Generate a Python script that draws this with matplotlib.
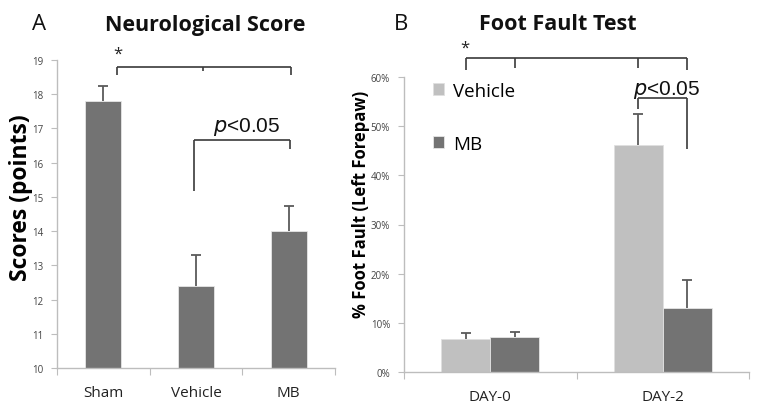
import matplotlib
matplotlib.use("Agg")
import matplotlib.pyplot as plt
import numpy as np

# ---- data ----
groups_a = ["Sham", "Vehicle", "MB"]
scores = [17.8, 12.4, 14.0]
scores_err = [0.45, 0.9, 0.72]
yticks_a = [10, 11, 12, 13, 14, 15, 16, 17, 18, 19]

days = ["DAY-0", "DAY-2"]
vehicle = [6.7, 46.1]
vehicle_err = [1.2, 6.3]
mb = [7.1, 13.0]
mb_err = [1.0, 5.7]
yticks_b = [0, 10, 20, 30, 40, 50, 60]
ytick_labels_b = ["0%", "10%", "20%", "30%", "40%", "50%", "60%"]

W, H = 780, 410
fig = plt.figure(figsize=(W / 100, H / 100), dpi=100)
FONT = ["Open Sans", "DejaVu Sans"]
plt.rcParams["font.family"] = FONT

DARK = "#737373"
LIGHT = "#c0c0c0"
ERR = "#5a5a5a"
SPINE = "#bdbdbd"
LINE = "#3a3a3a"


def fx(px):
    return px / W


def fy(py):
    return 1 - py / H


def style_axes(ax, n):
    for s in ["top", "right"]:
        ax.spines[s].set_visible(False)
    for s in ["left", "bottom"]:
        ax.spines[s].set_color(SPINE)
        ax.spines[s].set_linewidth(1.0)
    ax.set_xlim(-0.5, n - 0.5)
    ax.set_xticks(np.arange(-0.5, n, 1.0))
    ax.set_xticklabels([])
    ax.tick_params(axis="x", which="major", length=5, color=SPINE, direction="out")
    ax.tick_params(axis="y", which="major", length=4, color=SPINE, direction="out",
                   labelsize=7, labelcolor="#444444", pad=6)


def upper_err(ax, x, y, e):
    x = np.asarray(x, dtype=float)
    y = np.asarray(y, dtype=float)
    e = np.asarray(e, dtype=float)
    ax.vlines(x, y, y + e, color=ERR, lw=1.3, zorder=1)
    ax.plot(x, y + e, ls="none", marker="_", ms=7, mew=1.3, color=ERR, zorder=1)


def bracket(ax, xs, bottoms, top):
    ax.plot([xs[0], xs[-1]], [top, top], color=LINE, lw=1.2, clip_on=False,
            solid_capstyle="butt")
    for x, b in zip(xs, bottoms):
        ax.plot([x, x], [top, b], color=LINE, lw=1.2, clip_on=False,
                solid_capstyle="butt")


# ---------------- Panel A ----------------
axA = fig.add_axes([fx(57), fy(369), fx(335) - fx(57), fy(61) - fy(369)])
xa = np.arange(len(groups_a))
axA.bar(xa, scores, width=0.39, color=DARK, edgecolor="#e6e6e6", linewidth=0.6, zorder=2)
upper_err(axA, xa, scores, scores_err)
axA.set_ylim(10, 19)
axA.set_yticks(yticks_a)
style_axes(axA, len(groups_a))
axA.set_xticks(xa, minor=True)
axA.set_xticklabels(groups_a, minor=True, fontsize=11, color="#222222")
axA.tick_params(axis="x", which="minor", length=0, pad=12)
axA.set_ylabel("Scores (points)", fontsize=16.5, fontweight="bold")
axA.yaxis.set_label_coords((33 - 57) / 278, 0.555)

bracket(axA, [0.15, 1.08, 2.02], [18.55, 18.68, 18.55], 18.8)
axA.text(0.16, 19.18, "*", ha="center", va="center", fontsize=12, color="#222222",
         clip_on=False)
bracket(axA, [0.98, 2.01], [15.17, 16.4], 16.66)
axA.text(1.55, 17.07, r"$\it{p}$<0.05", ha="center", va="center", fontsize=15,
         family="Liberation Sans", color="#111111")

fig.text(fx(39), fy(25), "A", fontsize=16, ha="center", va="center", color="#111111")
fig.text(fx(205), fy(25), "Neurological Score", fontsize=15.5, fontweight="bold",
         ha="center", va="center", color="#111111")

# ---------------- Panel B ----------------
axB = fig.add_axes([fx(404), fy(373), fx(749) - fx(404), fy(78) - fy(373)])
xb = np.arange(len(days))
bw = 0.284
axB.bar(xb - bw / 2, vehicle, width=bw, color=LIGHT, edgecolor="#e0e0e0", linewidth=0.6,
        label="Vehicle", zorder=2)
axB.bar(xb + bw / 2, mb, width=bw, color=DARK, edgecolor="#e6e6e6", linewidth=0.6,
        label="MB", zorder=2)
upper_err(axB, xb - bw / 2, vehicle, vehicle_err)
upper_err(axB, xb + bw / 2, mb, mb_err)
axB.set_ylim(0, 60)
axB.set_yticks(yticks_b)
axB.set_yticklabels(ytick_labels_b)
style_axes(axB, len(days))
axB.set_xticks(xb, minor=True)
axB.set_xticklabels(days, minor=True, fontsize=11, color="#222222")
axB.tick_params(axis="x", which="minor", length=0, pad=12)
axB.set_ylabel("% Foot Fault (Left Forepaw)", fontsize=12, fontweight="bold")
axB.yaxis.set_label_coords((370 - 404) / 345, 0.57)

leg = axB.legend(loc="upper left",
                 bbox_to_anchor=((433 - 404) / 345, (373 - 83) / (373 - 78)),
                 frameon=False, fontsize=13.5, handlelength=0.6, handleheight=0.6,
                 handletextpad=0.45, labelspacing=1.85, borderaxespad=0, borderpad=0)

bracket(axB, [-bw / 2, bw / 2, 1 - bw / 2, 1 + bw / 2], [61.4, 61.8, 61.8, 61.4], 63.9)
axB.text(-0.145, 66.0, "*", ha="center", va="center", fontsize=12, color="#222222",
         clip_on=False)
bracket(axB, [1 - bw / 2, 1 + bw / 2], [53.5, 45.3], 55.7)
axB.text(1.02, 57.6, r"$\it{p}$<0.05", ha="center", va="center", fontsize=15,
         family="Liberation Sans", color="#111111")

fig.text(fx(401), fy(25), "B", fontsize=16, ha="center", va="center", color="#111111")
fig.text(fx(558), fy(25), "Foot Fault Test", fontsize=15.5, fontweight="bold",
         ha="center", va="center", color="#111111")

fig.savefig("out.png", dpi=100, facecolor="white")
